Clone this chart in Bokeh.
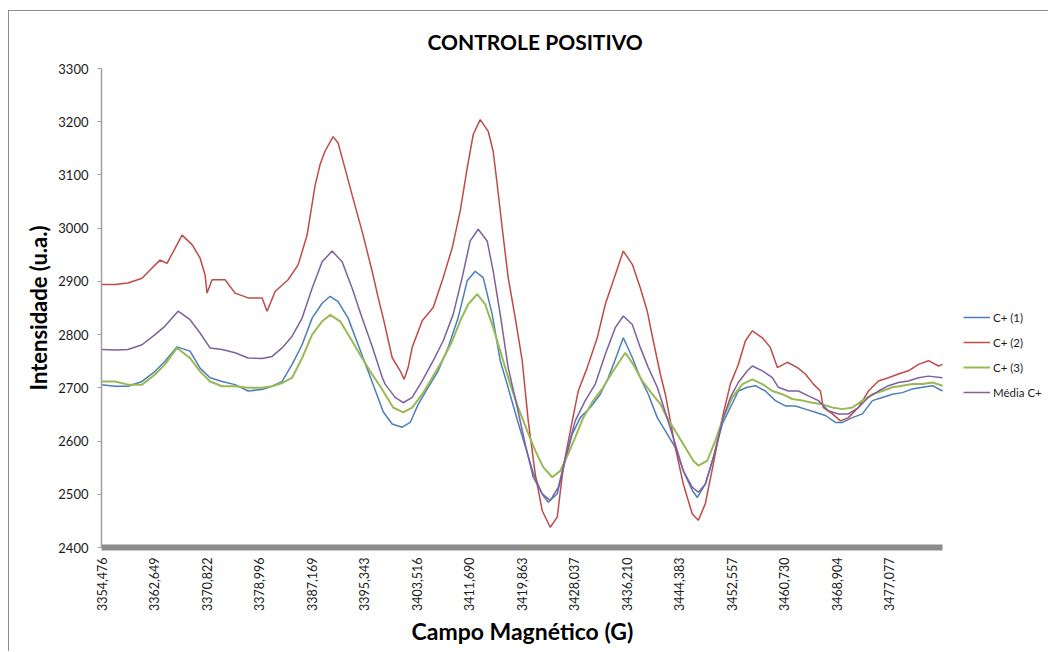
import math
from bokeh.plotting import figure
from bokeh.models import (FixedTicker, CustomJSTickFormatter, Legend, LegendItem, Range1d, Title)
from bokeh.embed import file_html
from bokeh.resources import INLINE

FONT = "Lato"

# ---------------- data ----------------
y_ticks = [2400, 2500, 2600, 2700, 2800, 2900, 3000, 3100, 3200, 3300]
x_ticks = [3354.476, 3362.649, 3370.822, 3378.996, 3387.169, 3395.343, 3403.516,
           3411.690, 3419.863, 3428.037, 3436.210, 3444.383, 3452.557, 3460.730,
           3468.904, 3477.077]
x_start, x_end = 3354.476, 3485.34      # extent of the recorded field sweep
x_view_end = 3501.99                    # frame continues under the legend

series_names = ["C+ (1)", "C+ (2)", "C+ (3)", "Média C+"]

c1_x = [3354.48, 3356.58, 3358.60, 3360.78, 3362.81, 3364.36, 3366.23, 3368.25, 3369.81, 3371.37,
        3373.24, 3375.26, 3377.29, 3379.47, 3381.02, 3382.58, 3384.14, 3385.69, 3387.25, 3388.81,
        3390.05, 3391.30, 3392.85, 3394.41, 3395.97, 3397.52, 3398.30, 3399.70, 3401.26, 3402.51,
        3403.75, 3405.31, 3406.87, 3408.42, 3409.98, 3411.38, 3412.63, 3413.87, 3415.27, 3416.52,
        3417.76, 3419.17, 3420.41, 3421.66, 3423.06, 3423.99, 3425.39, 3426.64, 3427.73, 3428.97,
        3430.53, 3432.09, 3433.33, 3434.73, 3435.67, 3437.07, 3438.31, 3439.56, 3440.96, 3442.21,
        3443.76, 3445.01, 3446.41, 3447.19, 3448.43, 3449.68, 3451.08, 3452.33, 3453.57, 3454.97,
        3456.22, 3457.78, 3459.33, 3460.89, 3462.45, 3464.00, 3465.56, 3467.12, 3468.67, 3469.76,
        3471.32, 3472.88, 3474.44, 3475.99, 3477.55, 3479.11, 3480.66, 3482.22, 3483.78, 3485.34]
c1_y = [2706, 2703, 2703, 2712, 2731, 2750, 2777, 2769, 2737, 2719,
        2712, 2706, 2694, 2697, 2703, 2712, 2744, 2781, 2831, 2859,
        2872, 2862, 2831, 2781, 2731, 2681, 2655, 2632, 2626, 2635,
        2669, 2701, 2732, 2776, 2832, 2901, 2919, 2907, 2838, 2751,
        2700, 2640, 2590, 2540, 2500, 2485, 2501, 2563, 2613, 2644,
        2663, 2688, 2719, 2763, 2794, 2757, 2719, 2688, 2644, 2619,
        2588, 2544, 2507, 2494, 2519, 2569, 2632, 2663, 2694, 2701,
        2704, 2694, 2676, 2666, 2666, 2660, 2654, 2648, 2635, 2635,
        2644, 2651, 2676, 2682, 2688, 2691, 2698, 2701, 2704, 2694]

c2_x = [3354.48, 3356.58, 3358.60, 3360.78, 3362.34, 3363.58, 3364.67, 3365.92, 3367.01, 3368.57,
        3369.81, 3370.59, 3370.90, 3371.68, 3373.70, 3375.26, 3377.29, 3379.47, 3380.24, 3381.49,
        3383.51, 3385.07, 3386.47, 3387.72, 3388.50, 3389.27, 3390.52, 3391.30, 3392.08, 3393.48,
        3395.03, 3396.59, 3397.52, 3398.30, 3399.70, 3400.95, 3401.57, 3402.19, 3402.82, 3404.38,
        3406.09, 3407.49, 3409.05, 3410.29, 3411.38, 3412.32, 3413.41, 3414.65, 3415.43, 3416.05,
        3416.83, 3417.76, 3418.85, 3419.94, 3420.88, 3421.97, 3423.06, 3424.30, 3425.39, 3426.33,
        3427.73, 3428.66, 3430.06, 3431.62, 3432.87, 3434.11, 3435.67, 3437.07, 3438.31, 3439.40,
        3440.34, 3441.43, 3442.21, 3443.76, 3445.01, 3446.41, 3447.34, 3448.43, 3449.68, 3451.08,
        3452.33, 3453.57, 3454.66, 3455.75, 3457.31, 3458.55, 3459.65, 3461.20, 3462.76, 3464.00,
        3465.25, 3466.34, 3466.80, 3468.21, 3469.45, 3470.70, 3472.25, 3473.81, 3475.37, 3476.93,
        3478.48, 3480.04, 3481.60, 3483.16, 3484.72, 3485.34]
c2_y = [2894, 2894, 2897, 2906, 2925, 2940, 2934, 2962, 2987, 2969,
        2944, 2912, 2878, 2903, 2903, 2878, 2869, 2869, 2844, 2881,
        2903, 2931, 2987, 3081, 3120, 3145, 3172, 3160, 3125, 3062,
        2994, 2919, 2870, 2832, 2757, 2732, 2716, 2738, 2776, 2826,
        2851, 2901, 2963, 3032, 3113, 3176, 3204, 3182, 3144, 3082,
        3000, 2907, 2832, 2751, 2638, 2538, 2469, 2438, 2457, 2551,
        2638, 2694, 2738, 2794, 2857, 2901, 2957, 2932, 2888, 2844,
        2788, 2726, 2688, 2588, 2519, 2463, 2451, 2482, 2557, 2644,
        2707, 2744, 2788, 2807, 2794, 2776, 2738, 2748, 2738, 2726,
        2707, 2694, 2663, 2651, 2638, 2644, 2663, 2694, 2713, 2719,
        2726, 2732, 2744, 2751, 2741, 2744]

c3_x = [3354.48, 3356.58, 3358.60, 3360.78, 3362.81, 3364.36, 3366.23, 3368.25, 3369.81, 3371.37,
        3373.24, 3375.26, 3377.29, 3379.47, 3381.02, 3382.58, 3384.14, 3385.69, 3387.25, 3388.81,
        3390.05, 3391.61, 3393.17, 3394.72, 3396.28, 3397.84, 3399.86, 3401.42, 3402.82, 3404.38,
        3405.93, 3407.49, 3409.05, 3410.29, 3411.54, 3412.94, 3414.18, 3415.43, 3416.83, 3418.07,
        3419.32, 3420.72, 3421.97, 3423.21, 3424.61, 3425.86, 3427.10, 3428.19, 3429.44, 3431.00,
        3432.55, 3434.11, 3435.98, 3437.22, 3438.63, 3440.18, 3441.43, 3442.21, 3443.76, 3445.32,
        3446.56, 3447.34, 3448.74, 3449.99, 3451.24, 3452.64, 3454.20, 3455.75, 3457.31, 3458.87,
        3460.42, 3461.98, 3463.54, 3465.09, 3466.65, 3468.21, 3469.76, 3471.32, 3472.88, 3474.44,
        3475.99, 3477.55, 3479.11, 3480.66, 3482.22, 3483.78, 3485.34]
c3_y = [2712, 2712, 2706, 2706, 2725, 2744, 2775, 2756, 2731, 2712,
        2703, 2703, 2700, 2700, 2703, 2709, 2719, 2756, 2800, 2825,
        2837, 2825, 2794, 2762, 2731, 2703, 2663, 2654, 2663, 2688,
        2719, 2751, 2788, 2826, 2857, 2876, 2857, 2813, 2757, 2707,
        2663, 2619, 2582, 2551, 2532, 2544, 2576, 2607, 2644, 2676,
        2701, 2732, 2766, 2744, 2713, 2688, 2670, 2650, 2619, 2588,
        2563, 2554, 2563, 2601, 2644, 2682, 2707, 2716, 2707, 2694,
        2688, 2679, 2676, 2672, 2669, 2663, 2660, 2663, 2676, 2688,
        2694, 2701, 2704, 2707, 2707, 2710, 2704]

avg_x = [3354.48, 3356.58, 3358.60, 3360.78, 3362.81, 3364.36, 3366.39, 3368.25, 3369.81, 3371.37,
         3373.24, 3375.26, 3377.29, 3379.47, 3381.02, 3382.58, 3384.14, 3385.69, 3387.25, 3388.81,
         3390.36, 3391.92, 3393.48, 3395.03, 3396.59, 3398.15, 3398.61, 3400.17, 3401.42, 3402.82,
         3404.38, 3406.09, 3407.64, 3409.20, 3410.60, 3411.85, 3413.09, 3414.49, 3415.43, 3416.52,
         3417.76, 3419.17, 3420.41, 3421.66, 3423.06, 3424.30, 3425.55, 3426.95, 3428.19, 3429.75,
         3431.31, 3432.87, 3434.42, 3435.67, 3437.07, 3438.31, 3439.56, 3440.96, 3442.21, 3443.76,
         3445.01, 3446.41, 3447.34, 3448.43, 3449.68, 3451.08, 3452.33, 3453.57, 3454.97, 3455.75,
         3457.31, 3458.87, 3459.80, 3461.36, 3462.91, 3464.47, 3466.03, 3467.58, 3469.14, 3470.70,
         3472.25, 3473.81, 3475.37, 3476.93, 3478.48, 3480.04, 3481.60, 3483.16, 3485.34]
avg_y = [2772, 2771, 2772, 2781, 2800, 2816, 2844, 2828, 2803, 2775,
         2772, 2766, 2756, 2755, 2759, 2775, 2797, 2831, 2887, 2937,
         2957, 2937, 2887, 2831, 2778, 2720, 2707, 2682, 2672, 2682,
         2713, 2751, 2788, 2838, 2907, 2976, 2998, 2976, 2919, 2838,
         2738, 2663, 2594, 2532, 2501, 2488, 2513, 2582, 2638, 2676,
         2707, 2763, 2813, 2835, 2819, 2776, 2738, 2701, 2654, 2594,
         2544, 2513, 2504, 2519, 2569, 2638, 2682, 2710, 2732, 2741,
         2732, 2719, 2701, 2694, 2694, 2685, 2676, 2657, 2651, 2651,
         2663, 2682, 2694, 2704, 2710, 2713, 2719, 2722, 2719]

colors = ["#4A7EBB", "#BE4B48", "#98B954", "#7D60A0"]
widths = [1.5, 1.5, 2.0, 1.5]

# ---------------- figure ----------------
W, H = 1040, 641
p = figure(width=W, height=H, output_backend="svg", toolbar_location=None,
           x_range=Range1d(x_start, x_view_end), y_range=Range1d(2400, 3300),
           min_border_left=92, min_border_right=0, min_border_top=56,
           min_border_bottom=105)
p.styles = {"margin-left": "8px", "margin-top": "10px",
            "border-top": "1px solid #8c8c8c", "border-left": "1px solid #8c8c8c"}
p.xgrid.visible = False
p.ygrid.visible = False
p.outline_line_color = None
p.background_fill_color = "white"
p.border_fill_color = "white"

p.title.text = "CONTROLE POSITIVO"
p.title.align = "left"
p.title.offset = 326
p.title.text_font = FONT
p.title.text_font_style = "bold"
p.title.text_font_size = "21px"
p.title.text_color = "#000000"
p.title.standoff = 30

xs = [c1_x, c2_x, c3_x, avg_x]
ys = [c1_y, c2_y, c3_y, avg_y]
renderers = []
for xv, yv, c, w in zip(xs, ys, colors, widths):
    renderers.append(p.line(xv, yv, line_color=c, line_width=w))

# x axis
xa = p.xaxis[0]
xa.bounds = (x_start, x_end)
xa.ticker = FixedTicker(ticks=x_ticks)
xa.formatter = CustomJSTickFormatter(code="return tick.toFixed(3).replace('.', ',');")
xa.major_label_orientation = math.pi / 2
xa.axis_line_width = 6
xa.axis_line_color = "#8c8c8c"
xa.major_tick_out = 0
xa.major_tick_in = 0
xa.minor_tick_out = 0
xa.minor_tick_in = 0
xa.major_tick_line_color = None
xa.major_label_standoff = 10
xa.major_label_text_font = FONT
xa.major_label_text_font_size = "12.5px"
xa.major_label_text_color = "#1a1a1a"

# x-axis title, centred under the recorded sweep
xlabel = Title(text="Campo Magnético (G)", align="left", offset=310,
               text_font=FONT, text_font_style="bold", text_font_size="23px",
               text_color="#000000", standoff=0)
p.add_layout(xlabel, "below")

# y axis
ya = p.yaxis[0]
ya.ticker = FixedTicker(ticks=y_ticks)
ya.axis_line_color = "#a0a0a0"
ya.axis_line_width = 1.5
ya.major_tick_line_color = "#a0a0a0"
ya.major_tick_out = 4
ya.major_tick_in = 0
ya.minor_tick_out = 0
ya.minor_tick_in = 0
ya.major_label_standoff = 9
ya.major_label_text_font = FONT
ya.major_label_text_font_size = "13px"
ya.major_label_text_color = "#1a1a1a"
ya.axis_label = "Intensidade (u.a.)"
ya.axis_label_text_font = FONT
ya.axis_label_text_font_style = "bold"
ya.axis_label_text_font_size = "22px"
ya.axis_label_text_color = "#000000"
ya.axis_label_standoff = 3

# legend (inside the frame, right of the data)
legend = Legend(items=[LegendItem(label=n, renderers=[r]) for n, r in zip(series_names, renderers)],
                location=(862, 144), padding=0, margin=0,
                border_line_color=None, background_fill_alpha=0,
                glyph_width=27, glyph_height=22, label_height=22, spacing=3,
                label_standoff=3, label_text_font=FONT, label_text_font_size="11.5px",
                label_text_color="#1a1a1a")
p.add_layout(legend)

open("out.html", "w").write(file_html(p, INLINE))
